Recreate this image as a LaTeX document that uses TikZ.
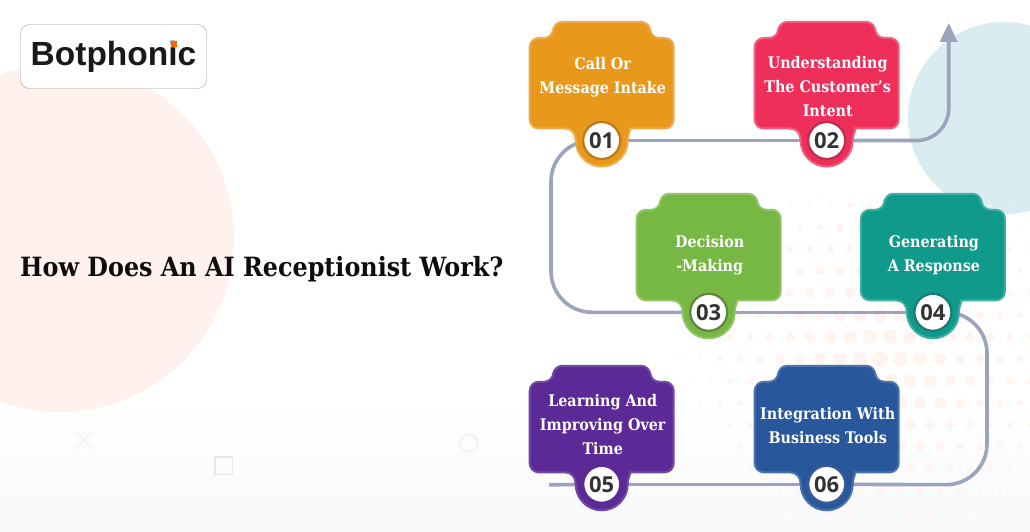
\documentclass[tikz,border=0pt]{standalone}
\usepackage{fontspec}
\setmainfont{DejaVu Serif}[FakeStretch=0.895]
\newfontfamily\titlefont{DejaVu Serif}[FakeStretch=0.9]
\newfontfamily\numfont{Open Sans}
\newfontfamily\logofont{Liberation Sans}
\usetikzlibrary{arrows.meta,backgrounds}
\pgfdeclarelayer{deco}
\pgfsetlayers{deco,background,main}
\definecolor{flowc}{HTML}{9CA3BE}
\definecolor{peachc}{HTML}{FFF2EE}
\definecolor{dotc}{HTML}{FFF4F0}
\definecolor{skyc}{HTML}{D9ECF0}
\definecolor{floorc}{HTML}{F8F9FB}
\definecolor{markc}{HTML}{FDEDE8}
\tikzstyle{flowline}=[draw=flowc,line width=3.6pt,rounded corners=41pt]
\tikzstyle{cardbody}=[line width=2pt,rounded corners=9pt]
\tikzstyle{cardtext}=[text=white,font=\fontsize{16}{24}\selectfont\bfseries,align=center]
\tikzstyle{badge}=[circle,fill=white,line width=2.2pt,minimum size=37pt,inner sep=0pt,text=black!80,font=\fontsize{22}{24}\numfont\bfseries]
\newcommand{\cardshape}[4]{% centre x, centre y, fill, edge
    \filldraw[cardbody,fill=#3,draw=#4,shift={(#1,#2)}]
        (-72,-60) -- (-72,-102.5) -- (-48.5,-102.5) -- (-48.5,-118.5) -- (48.5,-118.5)
        -- (48.5,-102.5) -- (72,-102.5) -- (72,-12) -- (37,-12)
        [sharp corners] .. controls (30,-12) and (26,-7) .. (26,0)
        arc (0:180:26)
        .. controls (-26,-7) and (-30,-12) .. (-37,-12)
        [rounded corners=9pt] -- (-72,-12) -- cycle;
}
\begin{document}
\begin{tikzpicture}[x=1pt,y=1pt,yscale=-1]
    \useasboundingbox (0,0) rectangle (1030,532);
    % backdrop
    \begin{pgfonlayer}{deco}
        \fill[white] (0,0) rectangle (1030,532);
        \shade[top color=white,bottom color=floorc] (0,532) rectangle (1030,400);
        \fill[peachc] (60,238) circle (174);
        \fill[skyc] (1004,118) circle (96);
        \foreach \row in {0,...,15} {
            \foreach \col in {0,...,21} {
                \pgfmathsetmacro{\dotx}{610+\col*20+mod(\row,2)*10}
                \pgfmathsetmacro{\doty}{205+\row*22}
                \pgfmathsetmacro{\dotr}{8*(1-veclen(\dotx-880,\doty-360)/235)}
                \ifdim\dotr pt>0.6pt
                    \fill[dotc] (\dotx,\doty) circle (\dotr);
                \fi
            }
        }
        \draw[markc,line width=1.4pt] (74,430) -- (94,450) (94,430) -- (74,450);
        \draw[black!9,line width=1.6pt] (215,457) rectangle (232.5,474.5);
        \draw[markc,line width=1.6pt] (469,443) circle (9);
    \end{pgfonlayer}
    % logo
    \node[draw=black!38,fill=white,rounded corners=9pt,minimum width=186pt,minimum height=64pt,inner sep=0pt,
          font=\fontsize{33.5}{35}\logofont\bfseries,text=black!90] (logo) at (113.5,56.5) {Botphonic};
    \fill[orange!80!red] (171,41) rectangle (177,47.5);
    % title
    \node[anchor=west,font=\fontsize{26.5}{30}\titlefont\bfseries,text=black!95,inner sep=0pt] (title) at (20,269) {How Does An AI Receptionist Work?};
    % cards
    \foreach \id/\cx/\cy/\ty/\bodyc/\edgec/\ringc/\txt in {
        1/601.7/140.5/77/E8991C/EDAB4D/B97A18/{Call Or\\Message Intake},
        2/826.7/140.5/87/EE2F5A/F25C7E/C42A4D/{Understanding\\The Customer's\\Intent},
        3/708.7/312.3/255/76B843/8FC566/63853A/{Decision\\-Making},
        4/932.9/312.3/255/0F9A8C/3EAEA2/1D7A72/{Generating\\A Response},
        5/601.7/484.3/425/5C2A96/7349A6/5C2A96/{Learning And\\Improving Over\\Time},
        6/826.7/484.3/426/28589B/4A73AC/3A5C96/{Integration With\\Business Tools}} {
        \definecolor{bodyc\id}{HTML}{\bodyc}
        \definecolor{edgec\id}{HTML}{\edgec}
        \definecolor{ringc\id}{HTML}{\ringc}
        \cardshape{\cx}{\cy}{bodyc\id}{edgec\id}
        \node[cardtext] (card\id) at (\cx+1,\ty) {\txt};
        \node[badge,draw=ringc\id] (badge\id) at (\cx,\cy) {0\id};
    }
    % flow
    \coordinate (tip) at (948.7,23);
    \coordinate (turnA) at (551,140.5);
    \coordinate (turnB) at (551,312.3);
    \coordinate (turnC) at (987,312.3);
    \coordinate (turnD) at (987,484.8);
    \coordinate (turnE) at (948.7,140.5);
    \coordinate (tail) at (549,484.8);
    \begin{pgfonlayer}{background}
        \draw[flowline] (badge1) -- (badge2);
        \draw[flowline,rounded corners=32pt,-{Triangle[length=19pt,width=17pt]}] (badge2) -- (turnE) -- (tip);
        \draw[flowline] (badge1) -- (turnA) -- (turnB) -- (badge3);
        \draw[flowline] (badge3) -- (badge4);
        \draw[flowline] (badge4) -- (turnC) -- (turnD) -- (badge6);
        \draw[flowline] (badge6) -- (badge5);
        \draw[flowline] (badge5) -- (tail);
    \end{pgfonlayer}
\end{tikzpicture}
\end{document}
